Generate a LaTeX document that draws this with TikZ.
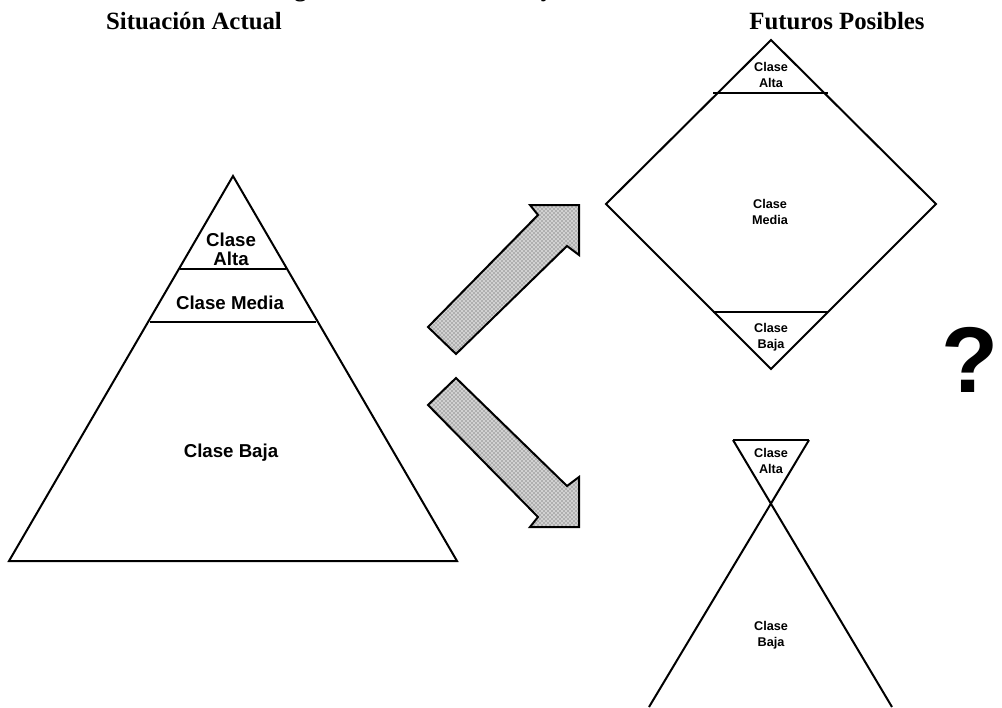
\documentclass[tikz,border=0pt]{standalone}
\usepackage{fontspec}
\usetikzlibrary{patterns}
\setmainfont{Liberation Serif}
\newfontfamily\arialf{Liberation Sans}
\tikzset{
  shp/.style={line width=1.5pt, line join=miter},
  blockarrow/.style={line width=1.5pt, line join=miter},
  lblbig/.style={font=\arialf\bfseries\fontsize{14}{14.5}\selectfont, align=center, inner sep=0pt},
  lblsmall/.style={font=\arialf\bfseries\fontsize{9.5}{12}\selectfont, align=center, inner sep=0pt},
  header/.style={font=\bfseries\fontsize{18.6}{22}\selectfont, inner sep=0pt, anchor=base}
}
\begin{document}
\begin{tikzpicture}[x=0.75pt,y=-0.75pt]
\useasboundingbox (0,0) rectangle (1002,707);
\clip (0,0) rectangle (1002,707);
% title (cut off at the top)
\node[header, anchor=base west] (title) at (272,-4) {Figura 1: Estratificación y la sociedad};
\node[header] (hleft) at (194,29) {Situación Actual};
\node[header] (hright) at (837,29) {Futuros Posibles};

% left pyramid
\coordinate (pa) at (233,176);
\coordinate (pl) at (9,561);
\coordinate (pr) at (457,561);
\draw[shp] (pa) -- (pl) -- (pr) -- cycle;
\draw[shp] (180,269) -- (286,269);
\draw[shp] (150,322) -- (316,322);
\node[lblbig] (lalta) at (231,249) {Clase\\Alta};
\node[lblbig] (lmedia) at (230,303) {Clase Media};
\node[lblbig] (lbaja) at (231,453) {Clase Baja};

% arrows
\path[fill=black!18] (428,327) -- (538,215) -- (530,205) -- (579,205) -- (579,255) -- (567,246) -- (456,354) -- cycle;
\path[pattern=crosshatch dots, pattern color=black!75] (428,327) -- (538,215) -- (530,205) -- (579,205) -- (579,255) -- (567,246) -- (456,354) -- cycle;
\draw[blockarrow] (428,327) -- (538,215) -- (530,205) -- (579,205) -- (579,255) -- (567,246) -- (456,354) -- cycle;
\path[fill=black!18] (428,405) -- (538,517) -- (530,527) -- (579,527) -- (579,477) -- (567,486) -- (456,378) -- cycle;
\path[pattern=crosshatch dots, pattern color=black!75] (428,405) -- (538,517) -- (530,527) -- (579,527) -- (579,477) -- (567,486) -- (456,378) -- cycle;
\draw[blockarrow] (428,405) -- (538,517) -- (530,527) -- (579,527) -- (579,477) -- (567,486) -- (456,378) -- cycle;

% diamond
\coordinate (dt) at (771,40);
\coordinate (dr) at (936,204);
\coordinate (db) at (771,369);
\coordinate (dl) at (606,204);
\draw[shp] (dt) -- (dr) -- (db) -- (dl) -- cycle;
\draw[shp] (713,93) -- (828,93);
\draw[shp] (713,312) -- (828,312);
\node[lblsmall] (dalta) at (771,75) {Clase\\Alta};
\node[lblsmall] (dmedia) at (770,212) {Clase\\Media};
\node[lblsmall] (dbaja) at (771,337) {Clase\\Baja};

% hourglass-like shape
\draw[shp] (733,440) -- (809,440);
\draw[shp] (733,440) -- (892,707);
\draw[shp] (809,440) -- (649,707);
\node[lblsmall] (halta) at (771,461) {Clase\\Alta};
\node[lblsmall] (hbaja) at (771,635) {Clase\\Baja};

% question mark
\node[font=\arialf\bfseries\fontsize{70}{70}\selectfont, inner sep=0pt] (q) at (970,360) {?};
\end{tikzpicture}
\end{document}
